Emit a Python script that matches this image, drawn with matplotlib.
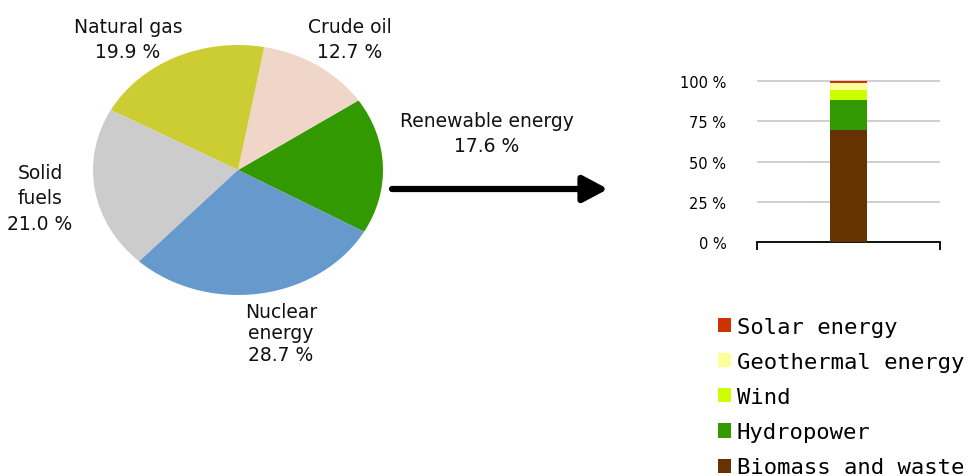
import matplotlib.pyplot as plt
from matplotlib.patches import Patch, FancyArrowPatch

W, H = 980, 477

# energy mix (pie), counter-clockwise from the renewable slice
sources = ["Renewable energy", "Crude oil", "Natural gas", "Solid\nfuels", "Nuclear\nenergy"]
shares = [17.6, 12.7, 19.9, 21.0, 28.7]
pie_colors = ["#339900", "#EFD6C8", "#CCCC33", "#CCCCCC", "#6699CC"]

# breakdown of renewables (stacked bar), bottom to top
renewables = ["Biomass and waste", "Hydropower", "Wind", "Geothermal energy", "Solar energy"]
renew_shares = [69.6, 18.6, 6.4, 4.2, 1.2]
renew_colors = ["#663300", "#339900", "#CCFF00", "#FFFF99", "#CC3300"]

y_ticks = [0, 25, 50, 75, 100]

# label centres in pixels, same order as sources
label_pos = [(487, 134), (350, 40), (128, 40), (40, 199), (281, 334)]
label_spacing = [1.42, 1.42, 1.42, 1.42, 1.15]


def px(x, y):
    return x / W, 1 - y / H


fig = plt.figure(figsize=(W / 100, H / 100), dpi=100)

# pie, stretched into an ellipse like the original
ax = fig.add_axes([93 / W, 1 - 296 / H, 290 / W, 250 / H])
ax.pie(shares, colors=pie_colors, startangle=-29.6, counterclock=True)
ax.set_aspect("auto")
ax.set_xlim(-1, 1)
ax.set_ylim(-1, 1)

for name, val, (x, y), ls in zip(sources, shares, label_pos, label_spacing):
    fig.text(*px(x, y), f"{name}\n{val:.1f} %", ha="center", va="center",
             fontsize=13.5, linespacing=ls, color="#111111")

# arrow from pie to bar
fig.add_artist(FancyArrowPatch(px(392, 190), px(608, 190), transform=fig.transFigure,
                               arrowstyle="-|>,head_length=15,head_width=8",
                               mutation_scale=1, lw=4.5, color="black",
                               shrinkA=0, shrinkB=0))

# stacked bar
bx = fig.add_axes([757 / W, 1 - 243 / H, 183 / W, 162.6 / H])
bottom = 0
handles = []
for name, v, c in zip(renewables, renew_shares, renew_colors):
    bx.bar(0, v, 0.4, bottom=bottom, color=c, zorder=3)
    handles.append(Patch(facecolor=c, label=name))
    bottom += v
bx.set_xlim(-1, 1)
bx.set_ylim(0, 101)
bx.set_yticks(y_ticks, [f"{t} %" for t in y_ticks])
bx.set_xticks([-1, 1], ["", ""])
bx.yaxis.grid(True, color="#CCCCCC", lw=1.3, zorder=0)
for s in ["top", "right", "left"]:
    bx.spines[s].set_visible(False)
bx.spines["bottom"].set_linewidth(1.3)
bx.tick_params(axis="x", length=6, width=1.3, direction="out")
bx.tick_params(axis="y", length=0, pad=22, labelsize=10.5)

fig.legend(handles=handles[::-1], loc="upper left", bbox_to_anchor=px(718, 318),
           frameon=False, prop=dict(family="DejaVu Sans Mono", size=16),
           handlelength=0.6, handleheight=0.6, handletextpad=0.25,
           labelspacing=0.68, borderpad=0, borderaxespad=0)

fig.savefig("out.png", dpi=100)
